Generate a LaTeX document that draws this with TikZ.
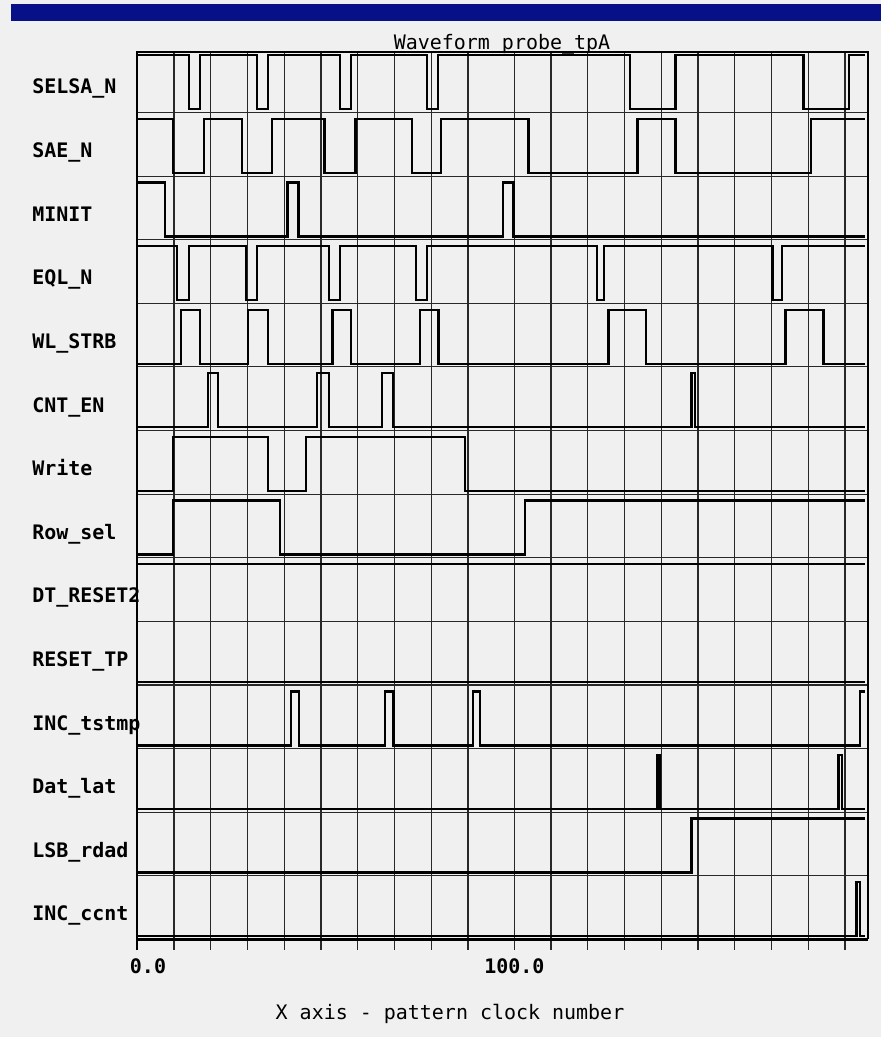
\documentclass[tikz,border=0pt]{standalone}
\usepackage{fontspec}
\setmonofont{DejaVu Sans Mono}
\definecolor{barblue}{RGB}{8,16,136}
\definecolor{bggray}{RGB}{240,240,240}
\definecolor{gridgray}{RGB}{40,40,40}
\begin{document}
\begin{tikzpicture}[x=0.025cm, y=-0.025cm,
    every node/.style={font=\ttfamily\bfseries\fontsize{14.2}{17}\selectfont, inner sep=0pt},
    gridline/.style={gridgray, line width=0.85pt},
    waveline/.style={black, line width=1.7pt},
    plotframe/.style={black, line width=1.8pt}]

        \fill [bggray] (0, 0) rectangle (881, 1037);
        \useasboundingbox (0, 0) rectangle (881, 1037);
        \fill [barblue] (11, 4) rectangle (881, 21);

        \node (title) at (502, 50) [anchor = base, font = \ttfamily\fontsize{14.2}{17}\selectfont] {Waveform probe\_tpA};

        \foreach \x in {174, 210.8, 247.5, 284.3, 321, 357.8, 394.5, 431.2, 468, 514.3, 551, 587.8, 624.5, 661.2, 698, 734.7, 771.5, 808.2, 845}
            \draw [gridline] (\x, 52) -- (\x, 950);
        \foreach \y in {112.5, 176.1, 239.7, 303.3, 366.9, 430.5, 494.1, 557.7, 621.3, 684.9, 748.5, 812.1, 875.7}
            \draw [gridline] (137, \y) -- (868, \y);

        \draw [plotframe] (137, 950) -- (137, 52) -- (868, 52) -- (868, 939.3);
        \draw [plotframe] (137, 939.3) -- (868, 939.3);

        \node (sig1) at (32, 94) [anchor = base west] {SELSA\_N};
        \draw [waveline] (137, 55.3) -| (189, 109.3) -| (200.3, 55.3) -| (256.7, 109.3) -| (267.7, 55.3) -| (339.7, 109.3) -| (350.7, 55.3) -| (426.7, 109.3) -| (437.7, 55.3) -| (629.7, 109.3) -| (675.3, 55.3) -| (803.3, 109.3) -| (849, 55.3) -- (864.5, 55.3);

        \node (sig2) at (32, 157.6) [anchor = base west] {SAE\_N};
        \draw [waveline] (137, 118.9) -| (173, 172.9) -| (204.3, 118.9) -| (242, 172.9) -| (271.7, 118.9) -| (324.3, 172.9) -| (355.3, 118.9) -| (412, 172.9) -| (441, 118.9) -| (528.3, 172.9) -| (637.3, 118.9) -| (675.3, 172.9) -| (811, 118.9) -- (864.5, 118.9);

        \node (sig3) at (32, 221.2) [anchor = base west] {MINIT};
        \draw [waveline] (137, 182.5) -| (165.3, 236.5) -| (287.3, 182.5) -| (298.3, 236.5) -| (502.7, 182.5) -| (513.3, 236.5) -- (864.5, 236.5);

        \node (sig4) at (32, 284.8) [anchor = base west] {EQL\_N};
        \draw [waveline] (137, 246.1) -| (176.7, 300.1) -| (189.3, 246.1) -| (246, 300.1) -| (256.7, 246.1) -| (329, 300.1) -| (340, 246.1) -| (416, 300.1) -| (427, 246.1) -| (596.7, 300.1) -| (604, 246.1) -| (772.3, 300.1) -| (782, 246.1) -- (864.5, 246.1);

        \node (sig5) at (32, 348.4) [anchor = base west] {WL\_STRB};
        \draw [waveline] (137, 363.7) -| (180.7, 309.7) -| (200.3, 363.7) -| (248.3, 309.7) -| (267.7, 363.7) -| (332.3, 309.7) -| (351, 363.7) -| (419.7, 309.7) -| (438.3, 363.7) -| (608.3, 309.7) -| (645.7, 363.7) -| (785.3, 309.7) -| (823.3, 363.7) -- (864.5, 363.7);

        \node (sig6) at (32, 412) [anchor = base west] {CNT\_EN};
        \draw [waveline] (137, 427.3) -| (208.3, 373.3) -| (218.3, 427.3) -| (317, 373.3) -| (329, 427.3) -| (381.7, 373.3) -| (392.7, 427.3) -| (691.3, 373.3) -| (695, 427.3) -- (864.5, 427.3);

        \node (sig7) at (32, 475.6) [anchor = base west] {Write};
        \draw [waveline] (137, 490.9) -| (173.3, 436.9) -| (267.7, 490.9) -| (305.7, 436.9) -| (465, 490.9) -- (864.5, 490.9);

        \node (sig8) at (32, 539.2) [anchor = base west] {Row\_sel};
        \draw [waveline] (137, 554.5) -| (173.3, 500.5) -| (280, 554.5) -| (525, 500.5) -- (864.5, 500.5);

        \node (sig9) at (32, 602.8) [anchor = base west] {DT\_RESET2};
        \draw [waveline] (137, 564.1) -- (864.5, 564.1);

        \node (sig10) at (32, 666.4) [anchor = base west] {RESET\_TP};
        \draw [waveline] (137, 681.7) -- (864.5, 681.7);

        \node (sig11) at (32, 730) [anchor = base west] {INC\_tstmp};
        \draw [waveline] (137, 745.3) -| (290.7, 691.3) -| (298.7, 745.3) -| (385, 691.3) -| (393.3, 745.3) -| (472.7, 691.3) -| (480, 745.3) -| (860, 691.3) -- (864.5, 691.3);

        \node (sig12) at (32, 793.6) [anchor = base west] {Dat\_lat};
        \draw [waveline] (137, 808.9) -| (657.3, 754.9) -| (660, 808.9) -| (838.3, 754.9) -| (841.7, 808.9) -- (864.5, 808.9);

        \node (sig13) at (32, 857.2) [anchor = base west] {LSB\_rdad};
        \draw [waveline] (137, 872.5) -| (691.3, 818.5) -- (864.5, 818.5);

        \node (sig14) at (32, 920.8) [anchor = base west] {INC\_ccnt};
        \draw [waveline] (137, 936.1) -| (856.3, 882.1) -| (859.7, 936.1) -- (864.5, 936.1);

        \node (t0) at (148, 973) [anchor = base] {0.0};
        \node (t100) at (514.3, 973) [anchor = base] {100.0};
        \node (xlab) at (450, 1019) [anchor = base, font = \ttfamily\fontsize{14.2}{17}\selectfont] {X axis - pattern clock number};

    \end{tikzpicture}
\end{document}
